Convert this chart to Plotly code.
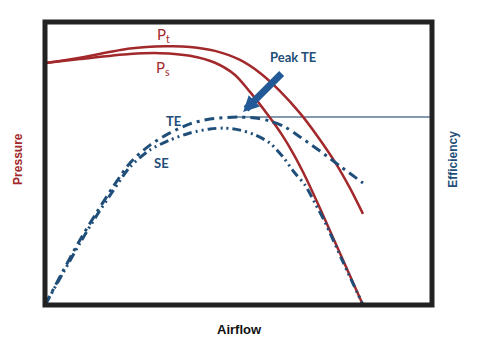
import plotly.graph_objects as go

# Fan curves on a relative airflow scale (0-100) with pressure/efficiency in %
airflow_pt = [0, 9.04, 21.96, 31.01, 37.47, 43.93, 50.39, 55.56, 60.72, 65.89, 70.54, 74.94, 78.81, 82.17]
pressure_total = [85.5, 87.4, 90.6, 91.4, 91.2, 89.8, 86.6, 82.0, 75.6, 67.8, 59.4, 50.5, 41.3, 32.2]

airflow_ps = [0, 9.04, 21.96, 29.72, 37.47, 43.93, 49.10, 52.97, 57.62, 61.24, 64.08, 66.67, 69.25, 71.83, 77.00, 82.17]
pressure_static = [85.5, 86.9, 88.7, 89.0, 88.1, 85.6, 81.3, 75.3, 67.1, 60.1, 53.7, 47.0, 39.6, 31.8, 15.9, 0]

airflow_te = [0, 4.65, 9.04, 13.44, 17.57, 21.96, 27.13, 32.30, 37.47, 42.64, 49.61, 54.26, 58.14, 62.02, 65.89, 71.06, 76.23, 82.17]
eff_total = [0, 12.0, 23.0, 32.9, 41.7, 50.2, 56.5, 60.8, 64.0, 65.7, 66.4, 66.1, 65.0, 62.9, 59.4, 54.4, 49.1, 43.1]

airflow_se = [0, 4.65, 9.04, 13.44, 17.57, 21.96, 27.13, 32.30, 37.47, 42.64, 46.51, 50.39, 54.26, 58.14, 61.50, 64.34, 67.18, 69.77, 72.35, 77.00, 82.17]
eff_static = [0, 11.3, 21.9, 31.8, 40.3, 48.8, 54.8, 58.3, 60.8, 62.2, 62.5, 61.8, 60.1, 57.2, 52.3, 47.0, 42.4, 36.0, 29.3, 15.2, 0]

RED = "#a3282b"
BLUE = "#1f4e79"
ARROW_BLUE = "#215a96"
PEAK_LINE = "#5b7896"

fig = go.Figure()
fig.add_trace(go.Scatter(x=airflow_pt, y=pressure_total, mode="lines",
                         line=dict(color=RED, width=2.5, shape="spline", smoothing=0.8)))
fig.add_trace(go.Scatter(x=airflow_ps, y=pressure_static, mode="lines",
                         line=dict(color=RED, width=2.5, shape="spline", smoothing=0.8)))
fig.add_trace(go.Scatter(x=airflow_te, y=eff_total, mode="lines",
                         line=dict(color=BLUE, width=3, dash="10px,5px,3px,5px",
                                   shape="spline", smoothing=0.8)))
fig.add_trace(go.Scatter(x=airflow_se, y=eff_static, mode="lines",
                         line=dict(color=BLUE, width=3, dash="9px,4px,2px,4px,2px,4px",
                                   shape="spline", smoothing=0.8)))

# Peak total efficiency
peak_i = max(range(len(eff_total)), key=lambda i: eff_total[i])
peak_x, peak_y = airflow_te[peak_i], eff_total[peak_i]

shapes = [
    dict(type="line", xref="x", yref="y", x0=peak_x, x1=100, y0=peak_y, y1=peak_y,
         line=dict(color=PEAK_LINE, width=1.5), layer="below"),
    dict(type="rect", xref="paper", yref="paper", x0=0, x1=1, y0=0, y1=1,
         line=dict(color="#222222", width=5), layer="above"),
]

label_font = dict(family="Lato", size=13, color=BLUE)
annotations = [
    dict(x=30.5, y=95.4, text="P<sub>t</sub>", showarrow=False,
         font=dict(family="Lato", size=15, color=RED)),
    dict(x=30.5, y=83.7, text="P<sub>s</sub>", showarrow=False,
         font=dict(family="Lato", size=15, color=RED)),
    dict(x=33.1, y=65.0, text="<b>TE</b>", showarrow=False, font=label_font),
    dict(x=30.2, y=50.2, text="<b>SE</b>", showarrow=False, font=label_font),
    dict(x=64.1, y=87.6, text="<b>Peak TE</b>", showarrow=False, font=label_font),
    dict(x=51.2, y=68.2, text="", showarrow=True, ax=40, ay=-40,
         arrowhead=2, arrowsize=0.45, arrowwidth=7, arrowcolor=ARROW_BLUE, standoff=0),
    dict(xref="paper", yref="paper", x=-0.07, y=0.516, text="<b>Pressure</b>",
         textangle=-90, showarrow=False, xanchor="center", yanchor="middle",
         font=dict(family="Liberation Sans", size=12, color=RED)),
    dict(xref="paper", yref="paper", x=1.054, y=0.516, text="<b>Efficiency</b>",
         textangle=-90, showarrow=False, xanchor="center", yanchor="middle",
         font=dict(family="Liberation Sans", size=12, color=BLUE)),
    dict(xref="paper", yref="paper", x=0.503, y=-0.088, text="<b>Airflow</b>",
         showarrow=False, xanchor="center", yanchor="middle",
         font=dict(family="Liberation Sans", size=13, color="#111111")),
]

fig.update_layout(
    width=484, height=350,
    margin=dict(l=45, r=52, t=22, b=45),
    paper_bgcolor="white", plot_bgcolor="white",
    showlegend=False, hovermode=False,
    xaxis=dict(range=[0, 100], showgrid=False, zeroline=False, showticklabels=False,
               ticks="", showline=False),
    yaxis=dict(range=[0, 100], showgrid=False, zeroline=False, showticklabels=False,
               ticks="", showline=False),
    shapes=shapes,
    annotations=annotations,
)

fig.write_html("out.html")
